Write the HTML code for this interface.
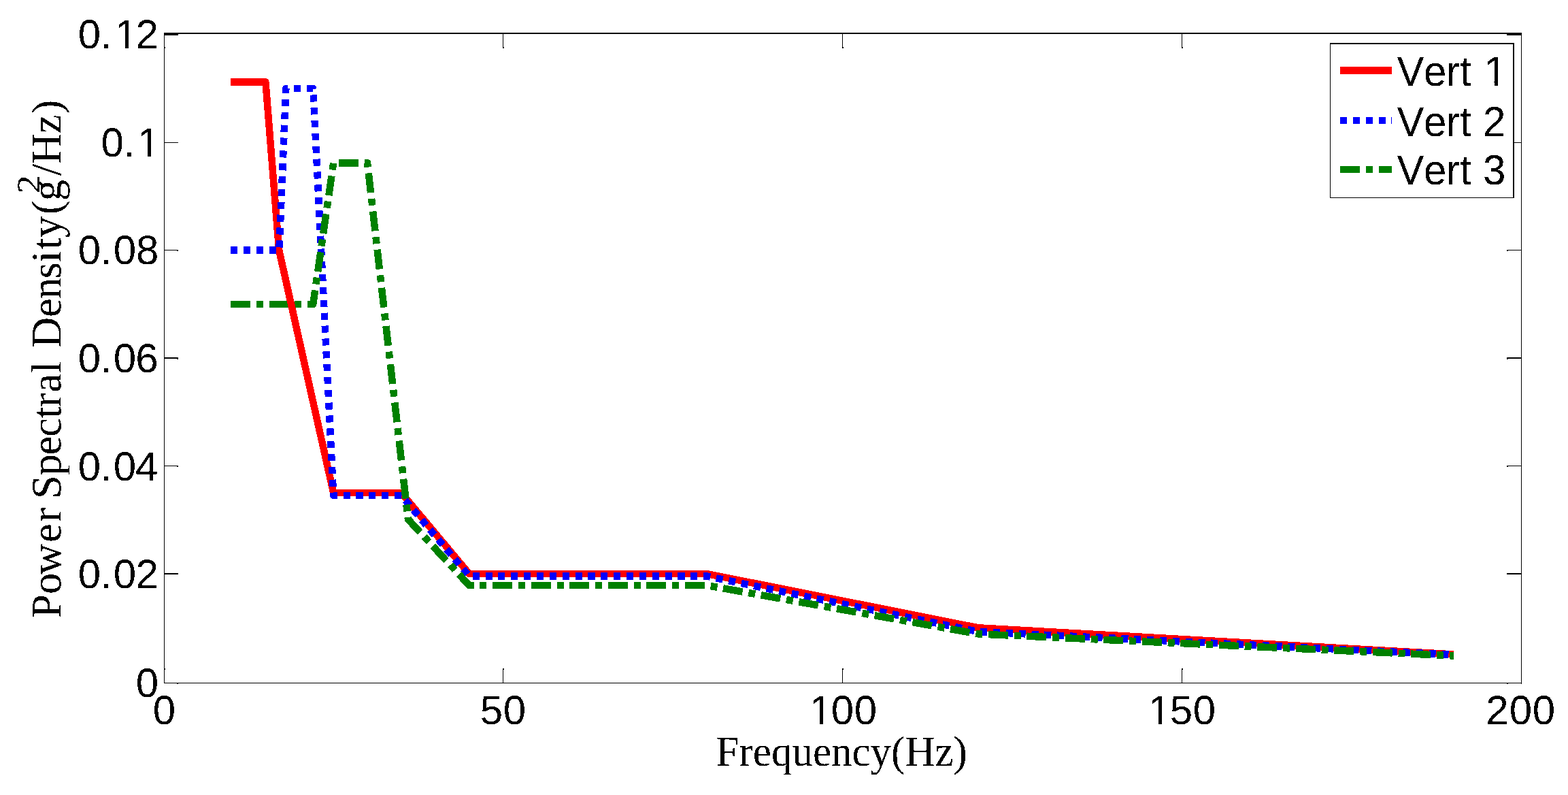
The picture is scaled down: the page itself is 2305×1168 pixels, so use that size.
<!DOCTYPE html>
<html lang="en"><head><meta charset="utf-8"><title>Power Spectral Density vs Frequency</title>
<style>
html,body{margin:0;padding:0;background:#fff;overflow:hidden}
svg{display:block}
text{font-family:"Liberation Sans",sans-serif;font-size:60px;fill:#000;font-kerning:none;text-rendering:geometricPrecision}
.serif{font-family:"Liberation Serif",serif}
.ax{fill:#000;shape-rendering:crispEdges}
.ln{fill:none;stroke-width:10.5;stroke-linejoin:round;stroke-linecap:butt;shape-rendering:crispEdges}
.r{stroke:#f00}.b{stroke:#00f;stroke-dasharray:10.1 8.765}.g{stroke:#008000;stroke-dasharray:29 8.9 10 8.65}
</style></head><body>
<svg width="2305" height="1168" viewBox="0 0 2305 1168">
<rect width="2305" height="1168" fill="#fff"/>
<defs><clipPath id="gc"><rect x="440" y="0" width="1865" height="1168"/></clipPath>
<filter id="bin" x="0" y="0" width="2305" height="1168" filterUnits="userSpaceOnUse" color-interpolation-filters="sRGB"><feComponentTransfer><feFuncR type="discrete" tableValues="0 1"/><feFuncG type="discrete" tableValues="0 1"/><feFuncB type="discrete" tableValues="0 1"/><feFuncA type="discrete" tableValues="0 1"/></feComponentTransfer></filter></defs>
<g class="ax">
<rect x="241" y="48" width="1996" height="2"/>
<rect x="241" y="1003" width="1996" height="1"/>
<rect x="241" y="48" width="1" height="956"/>
<rect x="2236" y="48" width="1" height="956"/>
<rect x="241" y="982" width="1" height="21"/>
<rect x="241" y="50" width="1" height="21"/>
<rect x="242" y="982" width="1" height="2"/>
<rect x="242" y="69" width="1" height="2"/>
<rect x="739" y="982" width="1" height="21"/>
<rect x="739" y="50" width="1" height="21"/>
<rect x="740" y="982" width="1" height="2"/>
<rect x="740" y="69" width="1" height="2"/>
<rect x="1238" y="982" width="1" height="21"/>
<rect x="1238" y="50" width="1" height="21"/>
<rect x="1239" y="982" width="1" height="2"/>
<rect x="1239" y="69" width="1" height="2"/>
<rect x="1737" y="982" width="1" height="21"/>
<rect x="1737" y="50" width="1" height="21"/>
<rect x="1738" y="982" width="1" height="2"/>
<rect x="1738" y="69" width="1" height="2"/>
<rect x="2236" y="982" width="1" height="21"/>
<rect x="2236" y="50" width="1" height="21"/>
<rect x="241" y="50" width="21" height="2"/>
<rect x="2215" y="50" width="22" height="2"/>
<rect x="241" y="209" width="21" height="1"/>
<rect x="2215" y="209" width="22" height="1"/>
<rect x="241" y="367" width="21" height="1"/>
<rect x="2215" y="367" width="22" height="1"/>
<rect x="260" y="368" width="2" height="1"/>
<rect x="2215" y="368" width="2" height="1"/>
<rect x="241" y="525" width="21" height="2"/>
<rect x="2215" y="525" width="22" height="2"/>
<rect x="260" y="527" width="2" height="1"/>
<rect x="2215" y="527" width="2" height="1"/>
<rect x="241" y="684" width="21" height="1"/>
<rect x="2215" y="684" width="22" height="1"/>
<rect x="260" y="685" width="2" height="1"/>
<rect x="2215" y="685" width="2" height="1"/>
<rect x="241" y="842" width="21" height="2"/>
<rect x="2215" y="842" width="22" height="2"/>
<rect x="241" y="1003" width="21" height="1"/>
<rect x="2215" y="1003" width="22" height="1"/>
<rect x="260" y="1004" width="2" height="1"/>
<rect x="2215" y="1004" width="2" height="1"/>
<rect x="2236" y="1004" width="1" height="1"/>
</g>
<polyline class="ln g" points="339.00,447.00 460.25,447.00 490.18,239.40 540.05,239.40 599.90,763.00 689.67,860.00 1038.80,860.00 1437.80,931.40 2136.80,963.50"/>
<polyline class="ln r" points="339.00,120.50 390.43,120.50 410.18,367.50 490.18,724.00 589.92,724.00 689.67,843.00 1038.80,843.00 1437.80,922.30 2136.80,961.40"/>
<polyline class="ln b" points="339.00,367.50 410.38,367.50 420.35,130.00 460.25,130.00 490.18,728.00 589.92,728.00 689.67,846.50 1038.80,846.50 1437.80,928.00 2136.80,962.00"/>
<polyline class="ln g" clip-path="url(#gc)" points="339.00,447.00 460.25,447.00 490.18,239.40 540.05,239.40 599.90,763.00 689.67,860.00 1038.80,860.00 1437.80,931.40 2136.80,963.50"/>
<g class="ax">
<rect x="1955" y="63" width="271" height="228" style="fill:#fff"/>
<rect x="1955" y="63" width="271" height="2"/>
<rect x="1955" y="290" width="271" height="1"/>
<rect x="1955" y="63" width="1" height="228"/>
<rect x="2224" y="63" width="2" height="228"/>
</g>
<polyline class="ln r" points="1970,103.5 2046,103.5"/>
<polyline class="ln b" points="1970,177 2046,177"/>
<polyline class="ln g" points="1970,249 2046,249"/>
<g filter="url(#bin)">
<text x="114.77 148.07 168.71 199.42" y="71.00">0.12</text>
<text x="148.62 181.97 201.81" y="229.90">0.1</text>
<text x="114.77 148.07 166.87 199.92" y="387.60">0.08</text>
<text x="114.77 148.07 166.87 199.21" y="546.80">0.06</text>
<text x="114.77 148.07 166.87 198.91" y="706.00">0.04</text>
<text x="114.77 148.07 166.87 199.42" y="864.00">0.02</text>
<text x="199.77" y="1023.50">0</text>
<text x="224.77" y="1064.00">0</text>
<text x="705.82 739.77" y="1064.00">50</text>
<text x="1189.81 1221.77 1255.82" y="1064.00">100</text>
<text x="1687.71 1719.82 1753.87" y="1064.00">150</text>
<text x="2184.37 2218.77 2252.77" y="1064.00">200</text>
<text class="serif" transform="translate(1052.60 1125.00) scale(1 1.03)" style="font-size:61px">Frequency(Hz)</text>
<g transform="translate(89.30 0) rotate(-90)">
<text class="serif" x="-907.98 -872.92 -843.96 -797.01 -766.76 -745.94 -733.03 -698.51 -668.41 -641.70 -614.75 -598.36 -576.69 -548.18 -530.82 -511.02 -465.91 -439.27 -409.56 -385.84 -366.70 -348.98 -315.22 -295.27" y="0" style="font-size:62.5px">Power Spectral Density(g</text>
<text class="serif" transform="translate(-284.19 -31.40) scale(1.13 1)" style="font-size:48.2px">2</text>
<text class="serif" x="-258.23 -240.98 -196.29 -167.44" y="0" style="font-size:62.5px">/Hz)</text>
</g>
<text transform="translate(0 126.10) scale(1 1.03)" x="2053.59 2092.92 2125.82 2145.93 2162.60 2181.51" y="0">Vert 1</text>
<text transform="translate(0 199.90) scale(1 1.03)" x="2053.59 2092.92 2125.82 2145.93 2162.60 2179.92" y="0">Vert 2</text>
<text transform="translate(0 271.10) scale(1 1.03)" x="2053.59 2092.92 2125.82 2145.93 2162.60 2179.89" y="0">Vert 3</text>
<rect x="172.28" y="65.72" width="11.52" height="6.28" style="fill:#fff"/>
<rect x="189.10" y="65.72" width="11.05" height="6.28" style="fill:#fff"/>
<rect x="205.38" y="224.62" width="11.52" height="6.28" style="fill:#fff"/>
<rect x="222.20" y="224.62" width="11.05" height="6.28" style="fill:#fff"/>
<rect x="1193.38" y="1058.72" width="11.52" height="6.28" style="fill:#fff"/>
<rect x="1210.20" y="1058.72" width="11.05" height="6.28" style="fill:#fff"/>
<rect x="1691.28" y="1058.72" width="11.52" height="6.28" style="fill:#fff"/>
<rect x="1708.10" y="1058.72" width="11.05" height="6.28" style="fill:#fff"/>
<rect x="2185.08" y="120.68" width="11.52" height="6.42" style="fill:#fff"/>
<rect x="2201.90" y="120.68" width="11.05" height="6.42" style="fill:#fff"/>
</g>
</svg>
</body></html>
